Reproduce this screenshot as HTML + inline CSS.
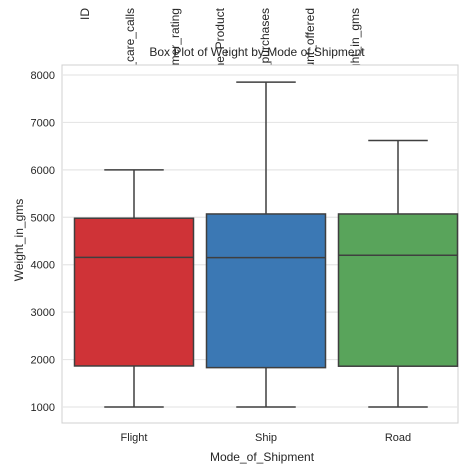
<!DOCTYPE html>
<html><head><meta charset="utf-8"><style>body{margin:0;background:#fff}svg{display:block;font-family:"Liberation Sans","DejaVu Sans",sans-serif}</style></head>
<body>
<svg id="chart" width="464" height="475" viewBox="0 0 464 475">
<g id="toplabels"></g>
<rect x="62" y="65" width="396" height="358" fill="#fff" stroke="#d0d0d0" stroke-width="1"/>
<g id="grid"></g><g id="boxes"></g><g id="axes"></g>
<text x="257" y="56" text-anchor="middle" font-size="12" fill="#262626">Box Plot of Weight by Mode of Shipment</text>
<text x="262" y="461" text-anchor="middle" font-size="12" fill="#262626">Mode_of_Shipment</text>
<text transform="translate(23,240) rotate(-90)" text-anchor="middle" font-size="12" fill="#262626">Weight_in_gms</text>
</svg>
<script>
const categories=["Flight","Ship","Road"];
const mins=[1000,1000,1000];
const q1s=[1865,1830,1860];
const medians=[4155,4150,4200];
const q3s=[4980,5070,5070];
const maxs=[6000,7850,6620];
const colors=["#cf3337","#3b78b4","#59a45b"];
const yTicks=[1000,2000,3000,4000,5000,6000,7000,8000];
const topLabels=["ID","Customer_care_calls","Customer_rating","Cost_of_the_Product","Prior_purchases","Discount_offered","Weight_in_gms"];
const NS="http://www.w3.org/2000/svg";
const L=62,R=458;
const y=v=>407-(v-1000)*(332/7000);
const band=132;
const xc=i=>68+band*(i+0.5);
function mk(t,a,p){const e=document.createElementNS(NS,t);for(const k in a)e.setAttribute(k,a[k]);p.appendChild(e);return e;}
const tl=document.getElementById('toplabels');
topLabels.forEach((s,i)=>{const t=mk('text',{transform:`translate(${89+i*45},8) rotate(-90)`,'text-anchor':'end','font-size':'12',fill:'#262626'},tl);t.textContent=s;

});
const g=document.getElementById('grid'),ax=document.getElementById('axes'),bx=document.getElementById('boxes');
yTicks.forEach(v=>{const l=mk('line',{x1:L,x2:R,y1:y(v),y2:y(v),stroke:'#e6e6e6','stroke-width':1.2},g);


const t=mk('text',{x:55,y:y(v)+4,'text-anchor':'end','font-size':'11',fill:'#262626'},ax);t.textContent=v;

});
categories.forEach((c,i)=>{const cx=xc(i),w=119,st='#3f3f3f';
const grp=mk('g',{},bx);


mk('line',{x1:cx,x2:cx,y1:y(maxs[i]),y2:y(q3s[i]),stroke:st,'stroke-width':1.5},grp);
mk('line',{x1:cx,x2:cx,y1:y(q1s[i]),y2:y(mins[i]),stroke:st,'stroke-width':1.5},grp);
mk('line',{x1:cx-w/4,x2:cx+w/4,y1:y(maxs[i]),y2:y(maxs[i]),stroke:st,'stroke-width':1.5},grp);
mk('line',{x1:cx-w/4,x2:cx+w/4,y1:y(mins[i]),y2:y(mins[i]),stroke:st,'stroke-width':1.5},grp);
mk('rect',{x:cx-w/2,y:y(q3s[i]),width:w,height:y(q1s[i])-y(q3s[i]),fill:colors[i],stroke:st,'stroke-width':1.5},grp);
mk('line',{x1:cx-w/2,x2:cx+w/2,y1:y(medians[i]),y2:y(medians[i]),stroke:st,'stroke-width':1.5},grp);
const t=mk('text',{x:cx,y:441,'text-anchor':'middle','font-size':'11',fill:'#262626'},ax);t.textContent=c;

});
</script>
</body></html>
